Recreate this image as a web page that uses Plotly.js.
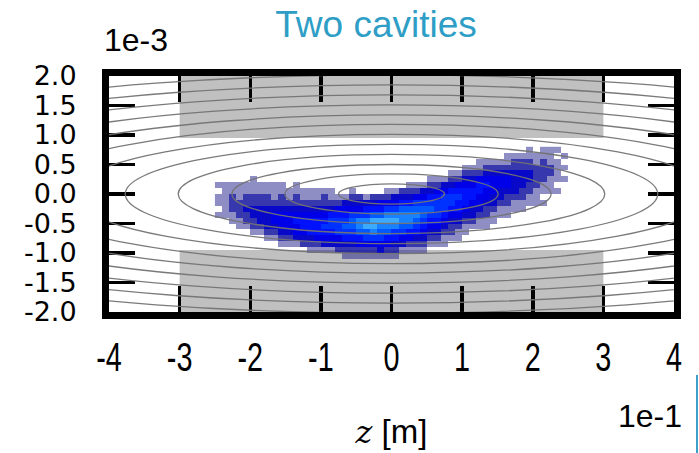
<!DOCTYPE html>
<html><head><meta charset="utf-8">
<script src="https://cdn.plot.ly/plotly-3.0.1.min.js"></script>
<style>html,body{margin:0;padding:0;background:#fff}#chart{width:699px;height:453px}</style>
</head><body><div id="chart"></div>
<script>
// axis ticks
const xTickVals = [-0.4,-0.3,-0.2,-0.1,0,0.1,0.2,0.3,0.4];
const xTickText = ['-4','-3','-2','-1','0','1','2','3','4'];
const yTickVals = [-2e-3,-1.5e-3,-1e-3,-0.5e-3,0,0.5e-3,1e-3,1.5e-3,2e-3];
const yTickText = ['-2.0','-1.5','-1.0','-0.5','0.0','0.5','1.0','1.5','2.0'];

// cavity (gray) zones
const cavityZ = [-0.3, 0.3];
const cavityDeltaUpper = [0.95e-3, 2.0e-3];
const cavityDeltaLower = [-2.0e-3, -0.95e-3];

// contour ellipses: semi-axes in z [m] and delta
const contourA = [0.075,0.151,0.226,0.302,0.377,0.453,0.528,0.604,0.679,0.755,0.830,0.906];
const contourB = [0.17e-3,0.34e-3,0.50e-3,0.67e-3,0.84e-3,1.01e-3,1.18e-3,1.34e-3,1.51e-3,1.68e-3,1.85e-3,2.02e-3];

// particle density (levels 0-9), one string per z bin (z = -0.245 ... 0.245, step 0.01)
// each string runs over delta bins from top (0.75e-3) to bottom (-1.15e-3)
const densityDelta = [0.75e-3,0.65e-3,0.55e-3,0.45e-3,0.35e-3,0.25e-3,0.15e-3,0.05e-3,-0.05e-3,-0.15e-3,
                      -0.25e-3,-0.35e-3,-0.45e-3,-0.55e-3,-0.65e-3,-0.75e-3,-0.85e-3,-0.95e-3,-1.05e-3,-1.15e-3];
const densityCols = [
"00000010110100000000","00000011111100000000","00000011222110000000","00000011122211000000",
"00000011223221000000","00000111223322100000","00000011223332100000","00000011223333210000",
"00000011123443210000","00000011223444321000","00000001123444321000","00000011223454431000",
"00000001123455432000","00000001123455532100","00000001123455542100","00000001223456543100",
"00000001123566543100","00000000124566643200","00000000134567653210","00000001234677653210",
"00000000234688754210","00000000135689764210","00000000235799864210","00000000245798764310",
"00000001246898754210","00000001346898653210","00000002357887643100","00000012357887542100",
"00000012467876532100","00000013467765432100","00000123567654321000","00000124566654321000",
"00000134666543211000","00001235665432210000","00001245655432110000","00012345554321100000",
"00012345543321000000","00112455443211000000","00123454432211000000","00123444332110000000",
"00123443321100000000","01123443221100000000","01223333211000000000","01223332211000000000",
"11223322110000000000","01122221110000000000","11222211010000000000","11122111000000000000",
"10111101000000000000","01010100000000000000"];

const zMatrix = densityDelta.map((d, r) => densityCols.map(col => {
  const v = parseInt(col.charAt(r) || '0', 10);
  return v > 0 ? v : null;
}));

const heat = {
  type: 'heatmap',
  x0: -0.245, dx: 0.01,
  y: densityDelta,
  z: zMatrix,
  zmin: 1, zmax: 9,
  zsmooth: false,
  showscale: false,
  hoverinfo: 'skip',
  colorscale: [
    [0, 'rgba(30,30,140,0.5)'],
    [0.125, 'rgba(20,20,160,0.85)'],
    [0.25, 'rgb(8,8,200)'],
    [0.375, 'rgb(0,0,232)'],
    [0.5, 'rgb(0,18,252)'],
    [0.625, 'rgb(0,50,255)'],
    [0.75, 'rgb(0,90,255)'],
    [0.875, 'rgb(25,130,255)'],
    [1, 'rgb(60,170,255)']
  ]
};

const shapes = [];
[cavityDeltaUpper, cavityDeltaLower].forEach(yr => shapes.push({
  type: 'rect', xref: 'x', yref: 'y', layer: 'below',
  x0: cavityZ[0], x1: cavityZ[1], y0: yr[0], y1: yr[1],
  fillcolor: 'rgb(192,192,192)', line: {width: 0}
}));
contourA.forEach((a, i) => shapes.push({
  type: 'circle', xref: 'x', yref: 'y', layer: 'above',
  x0: -a, x1: a, y0: -contourB[i], y1: contourB[i],
  line: {color: 'rgba(115,115,115,0.95)', width: 1.3}
}));
// slide edge line at right
shapes.push({type: 'line', xref: 'paper', yref: 'paper', x0: 1.0407, x1: 1.0407, y0: -0.267, y1: -0.6,
  line: {color: 'rgb(60,160,200)', width: 2}});

const sans = "'Liberation Sans', Arial, sans-serif";

const layout = {
  width: 699, height: 453,
  margin: {l: 109, r: 25, t: 76, b: 141},
  paper_bgcolor: '#fff', plot_bgcolor: '#fff',
  showlegend: false,
  title: {text: 'Two cavities', xref: 'container', yref: 'container', x: 0.538, xanchor: 'center',
          y: 0.976, yanchor: 'top',
          font: {family: sans, size: 37, color: 'rgb(46,158,198)'}},
  xaxis: {
    range: [-0.4, 0.4], tickvals: xTickVals, ticktext: xTickText,
    ticks: 'inside', ticklen: 26, tickwidth: 3.5, tickcolor: '#000',
    showline: true, linewidth: 7, linecolor: '#000', mirror: 'ticks',
    showgrid: false, zeroline: false,
    ticklabelstandoff: 4,
    tickfont: {family: sans, size: 40, color: '#000'},
    title: {text: "<span style=\"font-family:'DejaVu Serif';font-style:italic;font-size:32px\">z</span> [m]",
            font: {family: sans, size: 33, color: '#000'}, standoff: 44}
  },
  yaxis: {
    range: [-2e-3, 2e-3], tickvals: yTickVals, ticktext: yTickText,
    ticks: 'inside', ticklen: 26, tickwidth: 3.5, tickcolor: '#000',
    showline: true, linewidth: 7, linecolor: '#000', mirror: 'ticks',
    showgrid: false, zeroline: false,
    ticklabelstandoff: 20,
    tickfont: {family: "'DejaVu Sans', sans-serif", size: 27, color: '#000'}
  },
  annotations: [
    {text: '1e-3', xref: 'paper', yref: 'paper', x: 0.0478, y: 1.1525, xanchor: 'center', yanchor: 'middle',
     showarrow: false, font: {family: sans, size: 32, color: '#000'}},
    {text: '1e-1', xref: 'paper', yref: 'paper', x: 0.9575, y: -0.4407, xanchor: 'center', yanchor: 'middle',
     showarrow: false, font: {family: sans, size: 32, color: '#000'}}
  ],
  shapes: shapes
};

Plotly.newPlot('chart', [heat], layout, {staticPlot: true, displayModeBar: false}).then(gd => {
  // condensed look of the reference's x tick labels
  gd.querySelectorAll('.xtick text').forEach(t => {
    const x = parseFloat(t.getAttribute('x')) || 0;
    const tr = t.getAttribute('transform') || '';
    t.setAttribute('transform', tr + ' translate(' + x + ',0) scale(0.72,1) translate(' + (-x) + ',0)');
  });
});
</script>
</body></html>
